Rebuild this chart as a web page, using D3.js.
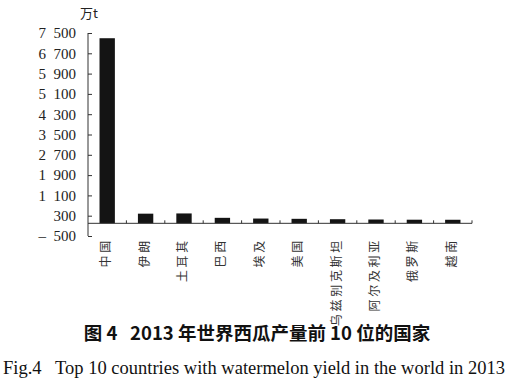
<!DOCTYPE html>
<html>
<head>
<meta charset="utf-8">
<script src="https://cdn.jsdelivr.net/npm/d3@7"></script>
<style>
  body { margin: 0; background: #fff; }
  svg { display: block; }
</style>
</head>
<body>
<div id="chart"></div>
<script>
// 2013 watermelon yield, 万t
const countries = ["中国", "伊朗", "土耳其", "巴西", "埃及", "美国", "乌兹别克斯坦", "阿尔及利亚", "俄罗斯", "越南"];
const yields    = [7294, 380, 389, 216, 188, 177, 162, 150, 142, 140];
const yTicks    = [-500, 300, 1100, 1900, 2700, 3500, 4300, 5100, 5900, 6700, 7500];

const width = 512, height = 385;
const margin = {top: 33, right: 40, bottom: 149, left: 88};
const innerW = width - margin.left - margin.right;
const innerH = height - margin.top - margin.bottom;

const data = countries.map((c, i) => ({c, v: yields[i]}));

const svg = d3.select("#chart").append("svg")
    .attr("width", width)
    .attr("height", height);

const g = svg.append("g")
    .attr("transform", `translate(${margin.left},${margin.top})`);

const x = d3.scaleBand().domain(countries).range([0, innerW]).paddingInner(0.6).paddingOuter(0.3);
const xb = d3.scaleBand().domain(countries).range([0, innerW]);
const y = d3.scaleLinear().domain([-500, 7500]).range([innerH, 0]);

// thousands split by a wide space, minus set apart
const fmt = v => (v < 0 ? "–\u2002" : "") + d3.format(",")(Math.abs(v)).replace(/,/g, "\u2002");

// y axis, ticks pointing inward
const yAxis = g.append("g")
    .call(d3.axisLeft(y).tickValues(yTicks).tickSize(-4).tickPadding(12).tickFormat(fmt));
yAxis.select(".domain").attr("d", `M0,${y(7500)}V${y(-500)}`);
yAxis.selectAll("line, path").attr("stroke", "#333");
yAxis.selectAll("text")
    .style("font-family", "'Liberation Serif', serif")
    .style("font-size", "15px")
    .attr("fill", "#222");

// bars
g.append("g").selectAll("rect")
    .data(data)
    .join("rect")
    .attr("x", d => x(d.c))
    .attr("y", d => y(d.v))
    .attr("width", x.bandwidth())
    .attr("height", d => y(0) - y(d.v))
    .attr("fill", "#141414");

// baseline with small upward ticks between categories
const base = g.append("g").attr("transform", `translate(0,${y(0)})`);
base.append("line")
    .attr("x1", 0).attr("x2", innerW)
    .attr("stroke", "#333");
base.selectAll(".sep")
    .data(countries.slice(1).concat(["end"]))
    .join("line")
    .attr("x1", (d, i) => i < countries.length - 1 ? xb(d) : innerW)
    .attr("x2", (d, i) => i < countries.length - 1 ? xb(d) : innerW)
    .attr("y1", 0).attr("y2", -3)
    .attr("stroke", "#333");

// rotated category labels below the axis
g.append("g").selectAll("text")
    .data(countries)
    .join("text")
    .attr("transform", d => `translate(${xb(d) + xb.bandwidth() / 2 + 3},${innerH + 2}) rotate(-90)`)
    .attr("text-anchor", "end")
    .style("font-family", "'Noto Sans CJK SC', sans-serif")
    .style("font-size", "12px")
    .style("letter-spacing", "2.7px")
    .attr("fill", "#333")
    .text(d => d);

// unit
svg.append("text")
    .attr("x", margin.left + 1).attr("y", 18)
    .attr("text-anchor", "middle")
    .style("font-family", "'Noto Sans CJK SC', serif")
    .style("font-size", "13px")
    .attr("fill", "#222")
    .text("万t");

// captions
svg.append("text")
    .attr("x", 257).attr("y", 340)
    .attr("text-anchor", "middle")
    .style("font-family", "'Noto Sans CJK SC', sans-serif")
    .style("font-weight", "bold")
    .style("font-size", "18.5px")
    .style("white-space", "pre")
    .attr("fill", "#111")
    .text("图 4   2013 年世界西瓜产量前 10 位的国家");

svg.append("text")
    .attr("x", 3).attr("y", 374)
    .style("font-family", "'Liberation Serif', serif")
    .style("font-size", "18.5px")
    .style("white-space", "pre")
    .attr("fill", "#111")
    .text("Fig.4   Top 10 countries with watermelon yield in the world in 2013");
</script>
</body>
</html>
